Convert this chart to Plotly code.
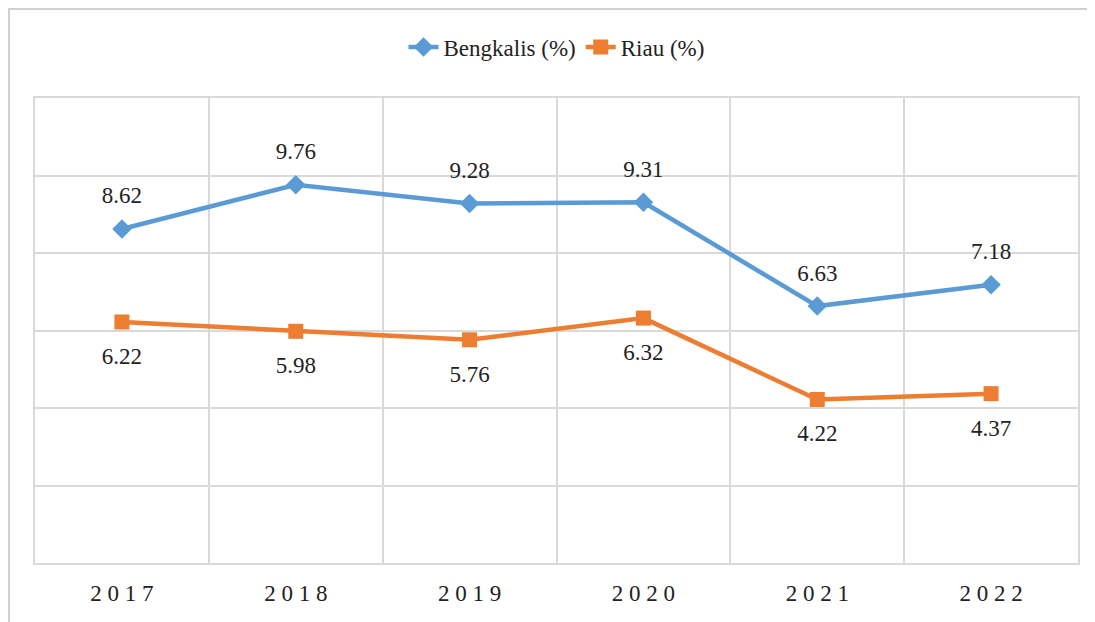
import plotly.graph_objects as go

years = ["2017", "2018", "2019", "2020", "2021", "2022"]
bengkalis = [8.62, 9.76, 9.28, 9.31, 6.63, 7.18]
riau = [6.22, 5.98, 5.76, 6.32, 4.22, 4.37]

BLUE = "#5B9BD5"
ORANGE = "#ED7D31"
GRID = "#D9D9D9"
FONT = "Liberation Serif"
TXT = "#222222"

# page body has an 8px margin, so the figure is offset by (8, 8)
OFF = 8
L, R, T, B = 35 - OFF, 1095 - 1078 + OFF, 98 - OFF, 622 - 563 + OFF
PW, PH = 1095 - L - R, 622 - T - B

fig = go.Figure()
fig.add_trace(go.Scatter(
    x=years, y=bengkalis, name="Bengkalis (%)", mode="lines+markers",
    line=dict(color=BLUE, width=4.5),
    marker=dict(symbol="diamond", size=15, color=BLUE),
))
fig.add_trace(go.Scatter(
    x=years, y=riau, name="Riau (%)", mode="lines+markers",
    line=dict(color=ORANGE, width=4.5),
    marker=dict(symbol="square", size=15, color=ORANGE),
))
# data labels: transparent large markers push the text away from the points
fig.add_trace(go.Scatter(
    x=years, y=bengkalis, mode="markers+text", showlegend=False, hoverinfo="skip",
    text=[f"{v:.2f}" for v in bengkalis], textposition="top center",
    marker=dict(size=30, color="rgba(0,0,0,0)"),
    textfont=dict(family=FONT, size=23, color=TXT), cliponaxis=False,
))
fig.add_trace(go.Scatter(
    x=years, y=riau, mode="markers+text", showlegend=False, hoverinfo="skip",
    text=[f"{v:.2f}" for v in riau], textposition="bottom center",
    marker=dict(size=38, color="rgba(0,0,0,0)"),
    textfont=dict(family=FONT, size=23, color=TXT), cliponaxis=False,
))
# invisible trace on an overlaid linear axis to draw the category-boundary gridlines
fig.add_trace(go.Scatter(x=[-0.5, 5.5], y=[0, 0], xaxis="x2", mode="lines",
                         line=dict(width=0), hoverinfo="skip", showlegend=False))

fig.update_layout(
    width=1095, height=622,
    margin=dict(l=L, r=R, t=T, b=B),
    paper_bgcolor="white", plot_bgcolor="white",
    font=dict(family=FONT, color=TXT, size=21),
    showlegend=True,
    shapes=[
        dict(type="line", xref="paper", yref="paper",
             x0=-L / PW, x1=(1095 - L) / PW, y0=1 + T / PH - 1 / PH, y1=1 + T / PH - 1 / PH,
             line=dict(color="#D0D0D0", width=2), layer="below"),
        dict(type="line", xref="paper", yref="paper",
             x0=-L / PW + 1 / PW, x1=-L / PW + 1 / PW, y0=-B / PH, y1=1 + T / PH,
             line=dict(color="#D0D0D0", width=2), layer="below"),
    ],
    legend=dict(orientation="h", x=0.5, xanchor="center", y=(563 - 47) / PH,
                yanchor="middle", font=dict(family=FONT, size=23, color=TXT)),
    xaxis=dict(
        type="category", categoryorder="array", categoryarray=years,
        tickvals=years, ticktext=[" ".join(y) for y in years],
        showgrid=False, ticks="", range=[-0.5, 5.5],
        ticklabelstandoff=8,
        tickfont=dict(family=FONT, size=23, color=TXT),
        showline=True, linecolor=GRID, linewidth=2, mirror=True,
    ),
    xaxis2=dict(
        overlaying="x", side="bottom", range=[-0.5, 5.5],
        tickmode="linear", tick0=-0.5, dtick=1,
        showgrid=True, gridcolor=GRID, gridwidth=2,
        showticklabels=False, ticks="", zeroline=False,
    ),
    yaxis=dict(
        range=[0, 12], dtick=2, showgrid=True, gridcolor=GRID, gridwidth=2,
        showticklabels=False, zeroline=False,
        showline=True, linecolor=GRID, linewidth=2, mirror=True,
    ),
)

fig.write_html("out.html")
